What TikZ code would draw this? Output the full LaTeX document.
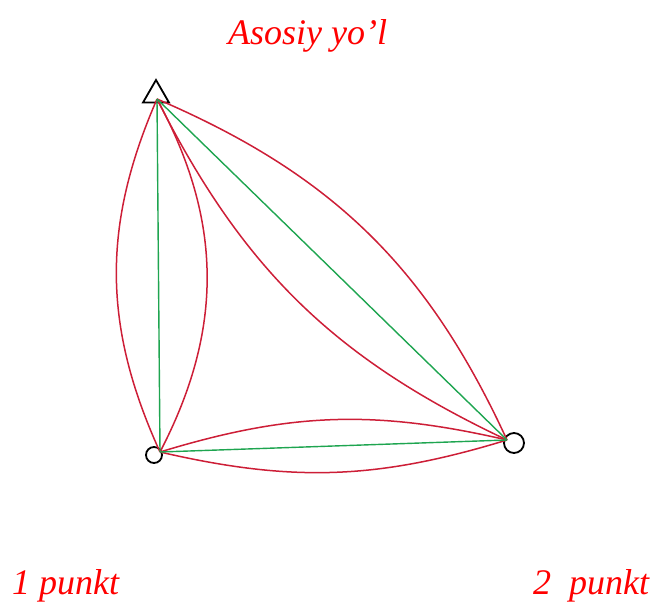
\documentclass[tikz,border=0pt]{standalone}
\usepackage{fontspec}
\setmainfont{Liberation Serif}
\usetikzlibrary{shapes.geometric}
\definecolor{lred}{RGB}{205,30,55}
\definecolor{lgreen}{RGB}{30,165,80}
\definecolor{tred}{RGB}{255,0,0}
\tikzset{
  road/.style={lred, line width=1.5pt},
  mainroad/.style={lgreen, line width=1.4pt},
  marker/.style={draw=black, line width=1.8pt, inner sep=0pt},
  label/.style={text=tred, font=\fontsize{36}{40}\selectfont\itshape, inner sep=0pt, anchor=base west}
}
\begin{document}
\begin{tikzpicture}[x=1pt,y=-1pt]
\useasboundingbox (0,0) rectangle (657,603);
\coordinate (A) at (157,99);
\coordinate (B) at (160,452);
\coordinate (C) at (507,440);
% markers
\node[marker, regular polygon, regular polygon sides=3, minimum size=30pt] (tri) at (156,95) {};
\node[marker, circle, minimum size=16pt] (cB) at (154,455) {};
\node[marker, circle, minimum size=20pt] (cC) at (514,443) {};
% red roads
\draw[road] (A) to[bend right=24] (B);
\draw[road] (A) to[bend left=28] (B);
\draw[road] (A) to[bend left=21] (C);
\draw[road] (A) to[bend right=19] (C);
\draw[road] (B) to[bend left=15] (C);
\draw[road] (B) to[bend right=15] (C);
% green roads
\draw[mainroad] (A) -- (B);
\draw[mainroad] (A) -- (C);
\draw[mainroad] (B) -- (C);
% labels
\node[label] (t1) at (228,44) {Asosiy yo’l};
\node[label] (t2) at (12,594) {1 punkt};
\node[label] (t3) at (533,594) {2\ \ punkt};
\end{tikzpicture}
\end{document}
